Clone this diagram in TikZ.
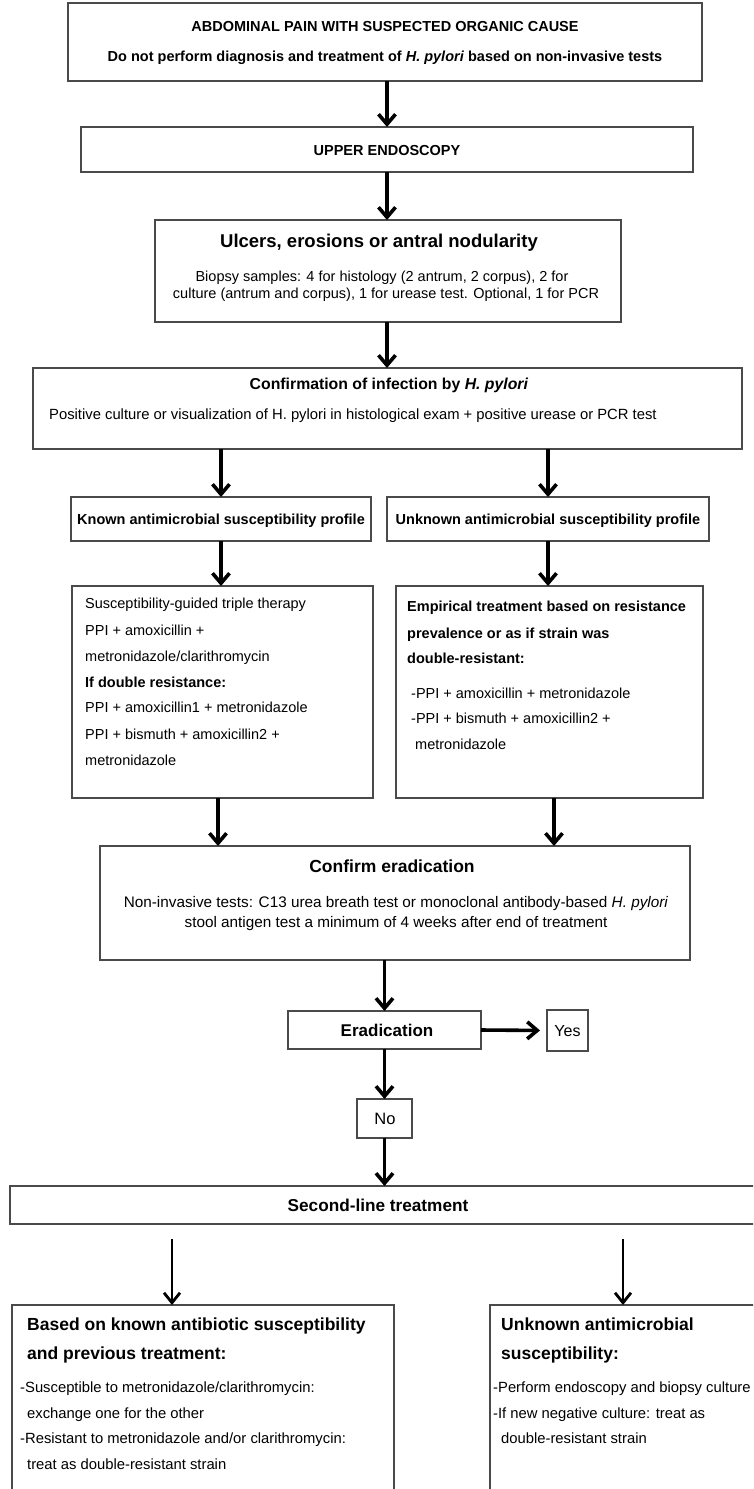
\documentclass[tikz,border=0pt]{standalone}
\usepackage{fontspec}
\setmainfont{Liberation Sans}
\usetikzlibrary{arrows.meta}
\definecolor{boxgray}{HTML}{4A4A4A}
\newcommand{\fsz}[1]{\fontsize{#1}{#1}\selectfont}
\begin{document}
\begin{tikzpicture}[x=1pt,y=-1pt,
  box/.style={draw=boxgray, line width=1.3pt, inner sep=0pt, outer sep=0pt},
  arr/.style={line width=3.6pt, -{Straight Barb[length=10pt,width=17pt]}},
  arrthin/.style={line width=2.8pt, -{Straight Barb[length=10pt,width=16pt]}},
  tc/.style={inner sep=0pt, anchor=base},
  tl/.style={inner sep=0pt, anchor=base west},
  body/.style={font=\fsz{14.5}},
  bodyb/.style={font=\fsz{14.5}\bfseries},
  item/.style={font=\fsz{14.8}},
  head/.style={font=\fsz{17.5}\bfseries}]
\useasboundingbox (0,0) rectangle (753,1489);
\begin{scope}
\clip (0,0) rectangle (753,1489);
% boxes
\node[box, minimum width=634, minimum height=78] (A) at (385,42) {};
\node[box, minimum width=612, minimum height=45] (B) at (387,149.5) {};
\node[box, minimum width=466, minimum height=102] (C) at (388,271) {};
\node[box, minimum width=709, minimum height=81] (D) at (387.5,408.5) {};
\node[box, minimum width=300, minimum height=44] (E1) at (221,519) {};
\node[box, minimum width=322, minimum height=44] (E2) at (548,519) {};
\node[box, minimum width=301, minimum height=212] (F1) at (222.5,692) {};
\node[box, minimum width=307, minimum height=212] (F2) at (549.5,692) {};
\node[box, minimum width=590, minimum height=114] (G) at (395,903) {};
\node[box, minimum width=193, minimum height=38] (Er) at (384.5,1030) {};
\node[box, minimum width=41, minimum height=41] (Y) at (567.5,1030.5) {};
\node[box, minimum width=55, minimum height=39] (N) at (384.5,1118.5) {};
\node[box, minimum width=810, minimum height=38] (S) at (415,1205) {};
\node[box, minimum width=382, minimum height=235] (H1) at (203,1422.5) {};
\node[box, minimum width=330, minimum height=235] (H2) at (655,1422.5) {};
% texts
\node[tc, bodyb] (a1) at (385,31) {ABDOMINAL PAIN WITH SUSPECTED ORGANIC CAUSE};
\node[tc, bodyb] (a2) at (385,61) {Do not perform diagnosis and treatment of \textit{H. pylori} based on non-invasive tests};
\node[tc, bodyb] (b1) at (387,155) {UPPER ENDOSCOPY};
\node[tc, font=\fsz{18.5}\bfseries] (c1) at (379,247) {Ulcers, erosions or antral nodularity};
\node[tc, body] (c2) at (382,281) {Biopsy samples: 4 for histology (2 antrum, 2 corpus), 2 for};
\node[tc, body] (c3) at (386,298) {culture (antrum and corpus), 1 for urease test. Optional, 1 for PCR};
\node[tc, font=\fsz{15.8}\bfseries] (d1) at (389,389) {Confirmation of infection by \textit{H. pylori}};
\node[tl, font=\fsz{14.8}] (d2) at (49,419) {Positive culture or visualization of H. pylori in histological exam + positive urease or PCR test};
\node[tc, bodyb] (e1) at (221,524) {Known antimicrobial susceptibility profile};
\node[tc, bodyb] (e2) at (548,524) {Unknown antimicrobial susceptibility profile};
\node[tl, body] (f1) at (85,608) {Susceptibility-guided triple therapy};
\node[tl, body] (f2) at (85,635) {PPI + amoxicillin +};
\node[tl, body] (f3) at (85,661) {metronidazole/clarithromycin};
\node[tl, bodyb] (f4) at (85,687) {If double resistance:};
\node[tl, body] (f5) at (85,712) {PPI + amoxicillin1 + metronidazole};
\node[tl, body] (f6) at (85,739) {PPI + bismuth + amoxicillin2 +};
\node[tl, body] (f7) at (85,765) {metronidazole};
\node[tl, bodyb] (g1) at (407,611) {Empirical treatment based on resistance};
\node[tl, bodyb] (g2) at (407,638) {prevalence or as if strain was};
\node[tl, bodyb] (g3) at (407,663) {double-resistant:};
\node[tl, body] (g4) at (411,698) {-PPI + amoxicillin + metronidazole};
\node[tl, body] (g5) at (411,723) {-PPI + bismuth + amoxicillin2 +};
\node[tl, body] (g6) at (415,749) {metronidazole};
\node[tc, head] (h1) at (392,872) {Confirm eradication};
\node[tc, font=\fsz{15.3}] (h2) at (396,907) {Non-invasive tests: C13 urea breath test or monoclonal antibody-based \textit{H. pylori}};
\node[tc, font=\fsz{15.3}] (h3) at (396,927) {stool antigen test a minimum of 4 weeks after end of treatment};
\node[tc, font=\fsz{17}\bfseries] (er) at (387,1036) {Eradication};
\node[tc, font=\fsz{16}] (ye) at (567.5,1036) {Yes};
\node[tc, font=\fsz{16.5}] (no) at (385,1124) {No};
\node[tc, font=\fsz{17.2}\bfseries] (se) at (378,1211) {Second-line treatment};
\node[tl, head] (k1) at (27,1330) {Based on known antibiotic susceptibility};
\node[tl, head] (k2) at (27,1359) {and previous treatment:};
\node[tl, item] (k3) at (20,1392) {-Susceptible to metronidazole/clarithromycin:};
\node[tl, item] (k4) at (27,1418) {exchange one for the other};
\node[tl, item] (k5) at (20,1443) {-Resistant to metronidazole and/or clarithromycin:};
\node[tl, item] (k6) at (27,1469) {treat as double-resistant strain};
\node[tl, head] (m1) at (501,1330) {Unknown antimicrobial};
\node[tl, head] (m2) at (501,1359) {susceptibility:};
\node[tl, item] (m3) at (493,1392) {-Perform endoscopy and biopsy culture};
\node[tl, item] (m4) at (493,1418) {-If new negative culture: treat as};
\node[tl, item] (m5) at (501,1443) {double-resistant strain};
% connectors
\draw[arr] (A.south -| B.north) -- (B.north);
\draw[arr] (B.south) -- (B.south |- C.north);
\draw[arr] (B.south |- C.south) -- (B.south |- D.north);
\draw[arr] (E1.north |- D.south) -- (E1.north);
\draw[arr] (E2.north |- D.south) -- (E2.north);
\draw[arr] (E1.south) -- (E1.south |- F1.north);
\draw[arr] (E2.south) -- (E2.south |- F2.north);
\coordinate (p1) at (218,0);
\coordinate (p2) at (554,0);
\draw[arr] (F1.south -| p1) -- (G.north -| p1);
\draw[arr] (F2.south -| p2) -- (G.north -| p2);
\draw[arr] (Er.north |- G.south) -- (Er.north);
\draw[arr, shorten >=7pt] (Er.east) -- (Y.west);
\draw[arr] (Er.south) -- (N.north);
\draw[arr] (N.south) -- (N.south |- S.north);
\coordinate (s1) at (172,0);
\coordinate (s2) at (623,0);
\draw[arrthin, shorten <=15pt] (S.south -| s1) -- (H1.north -| s1);
\draw[arrthin, shorten <=15pt] (S.south -| s2) -- (H2.north -| s2);
\end{scope}
\end{tikzpicture}
\end{document}
